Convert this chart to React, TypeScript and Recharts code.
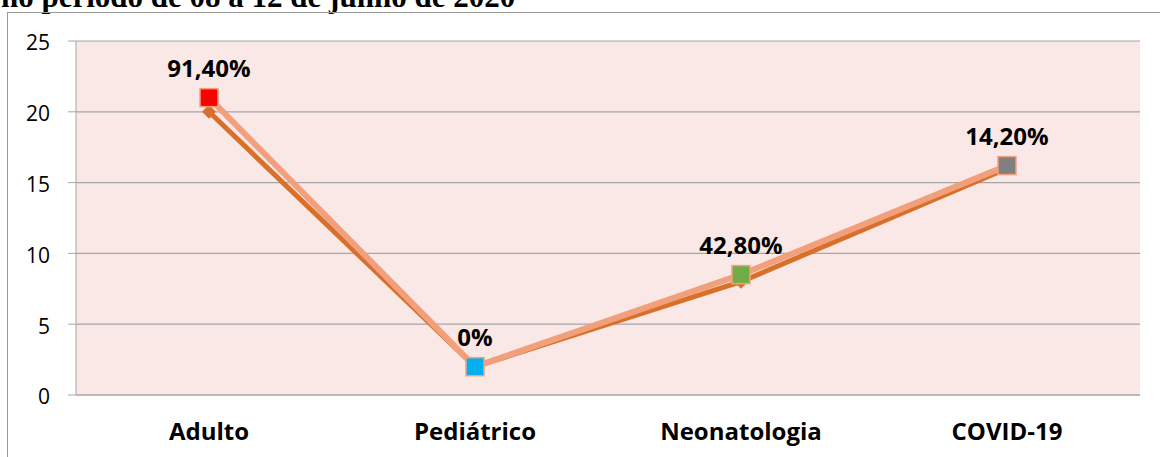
import { LineChart, Line, XAxis, YAxis, CartesianGrid, LabelList } from 'recharts';

const categories = ['Adulto', 'Pediátrico', 'Neonatologia', 'COVID-19'];
const serieBase = [20, 2, 8, 16];
const serieTaxa = [21, 2, 8.5, 16.2];
const rotulos = ['91,40%', '0%', '42,80%', '14,20%'];
const coresMarcador = ['#FF0000', '#00B0F0', '#70AD47', '#808080'];
const yTicks = [0, 5, 10, 15, 20, 25];
const edgeTicks = [0, 1, 2, 3, 4];

const data = categories.map((c, i) => ({
  categoria: c,
  base: serieBase[i],
  taxa: serieTaxa[i],
  rotulo: rotulos[i],
}));

const FONT = '"Open Sans", "Liberation Sans", sans-serif';

const Diamond = (props: any) => {
  const { cx, cy } = props;
  if (cx == null || cy == null) return null;
  const r = 7;
  return (
    <path
      d={`M${cx},${cy - r} L${cx + r},${cy} L${cx},${cy + r} L${cx - r},${cy} Z`}
      fill="#D9702A"
    />
  );
};

const Square = (props: any) => {
  const { cx, cy, index } = props;
  if (cx == null || cy == null) return null;
  const s = 9;
  return (
    <rect
      x={cx - s}
      y={cy - s}
      width={s * 2}
      height={s * 2}
      fill={coresMarcador[index]}
      stroke="#F2A07C"
      strokeWidth={1.5}
    />
  );
};

const Rotulo = (props: any) => {
  const { x, y, value } = props;
  return (
    <text
      x={x}
      y={y - 30}
      textAnchor="middle"
      dominantBaseline="central"
      fontFamily={FONT}
      fontWeight="bold"
      fontSize={24}
      fill="#000"
    >
      {value}
    </text>
  );
};

export default function App() {
  return (
    <div style={{ position: 'fixed', left: 0, top: 0, width: 1160, height: 457, overflow: 'hidden', background: '#fff' }}>
      <div
        style={{
          position: 'absolute',
          left: 1,
          top: -19,
          fontFamily: '"Liberation Serif", serif',
          fontWeight: 'bold',
          fontSize: 31,
          whiteSpace: 'nowrap',
          lineHeight: '31px',
          color: '#000',
        }}
      >
        no período de 08 a 12 de junho de 2020
      </div>
      <div style={{ position: 'absolute', left: 0, top: 0 }}>
        <LineChart width={1160} height={457} data={data} margin={{ top: 41, right: 20, bottom: 0, left: 0 }}>
          <CartesianGrid vertical={false} stroke="#A6A6A6" fill="#F9E8E6" strokeWidth={1.2} />
          <XAxis
            xAxisId="edge"
            type="number"
            domain={[0, 4]}
            ticks={edgeTicks}
            tick={false}
            axisLine={false}
            tickSize={8}
            height={0}
            tickLine={{ stroke: '#A6A6A6' }}
          />
          <XAxis
            dataKey="categoria"
            scale="band"
            height={62}
            tickLine={false}
            tickSize={0}
            tickMargin={28}
            axisLine={{ stroke: '#A6A6A6' }}
            tick={{ fontFamily: FONT, fontWeight: 'bold', fontSize: 24, fill: '#000' }}
          />
          <YAxis
            width={76}
            domain={[0, 25]}
            ticks={yTicks}
            tickSize={8}
            tickMargin={18}
            axisLine={{ stroke: '#A6A6A6' }}
            tickLine={{ stroke: '#A6A6A6' }}
            tick={{ fontFamily: FONT, fontSize: 21, fill: '#000', dy: 2 }}
          />
          <Line
            dataKey="base"
            stroke="#D9702A"
            strokeWidth={5}
            dot={<Diamond />}
            activeDot={false}
            isAnimationActive={false}
          />
          <Line
            dataKey="taxa"
            stroke="#F2A07C"
            strokeWidth={6}
            dot={<Square />}
            activeDot={false}
            isAnimationActive={false}
          >
            <LabelList dataKey="rotulo" content={<Rotulo />} />
          </Line>
        </LineChart>
      </div>
      <div style={{ position: 'absolute', zIndex: 2, left: 7, top: 12, width: 1153, height: 1, background: '#9a9a9a' }} />
      <div style={{ position: 'absolute', zIndex: 2, left: 7, top: 12, width: 1, height: 445, background: '#9a9a9a' }} />
    </div>
  );
}
